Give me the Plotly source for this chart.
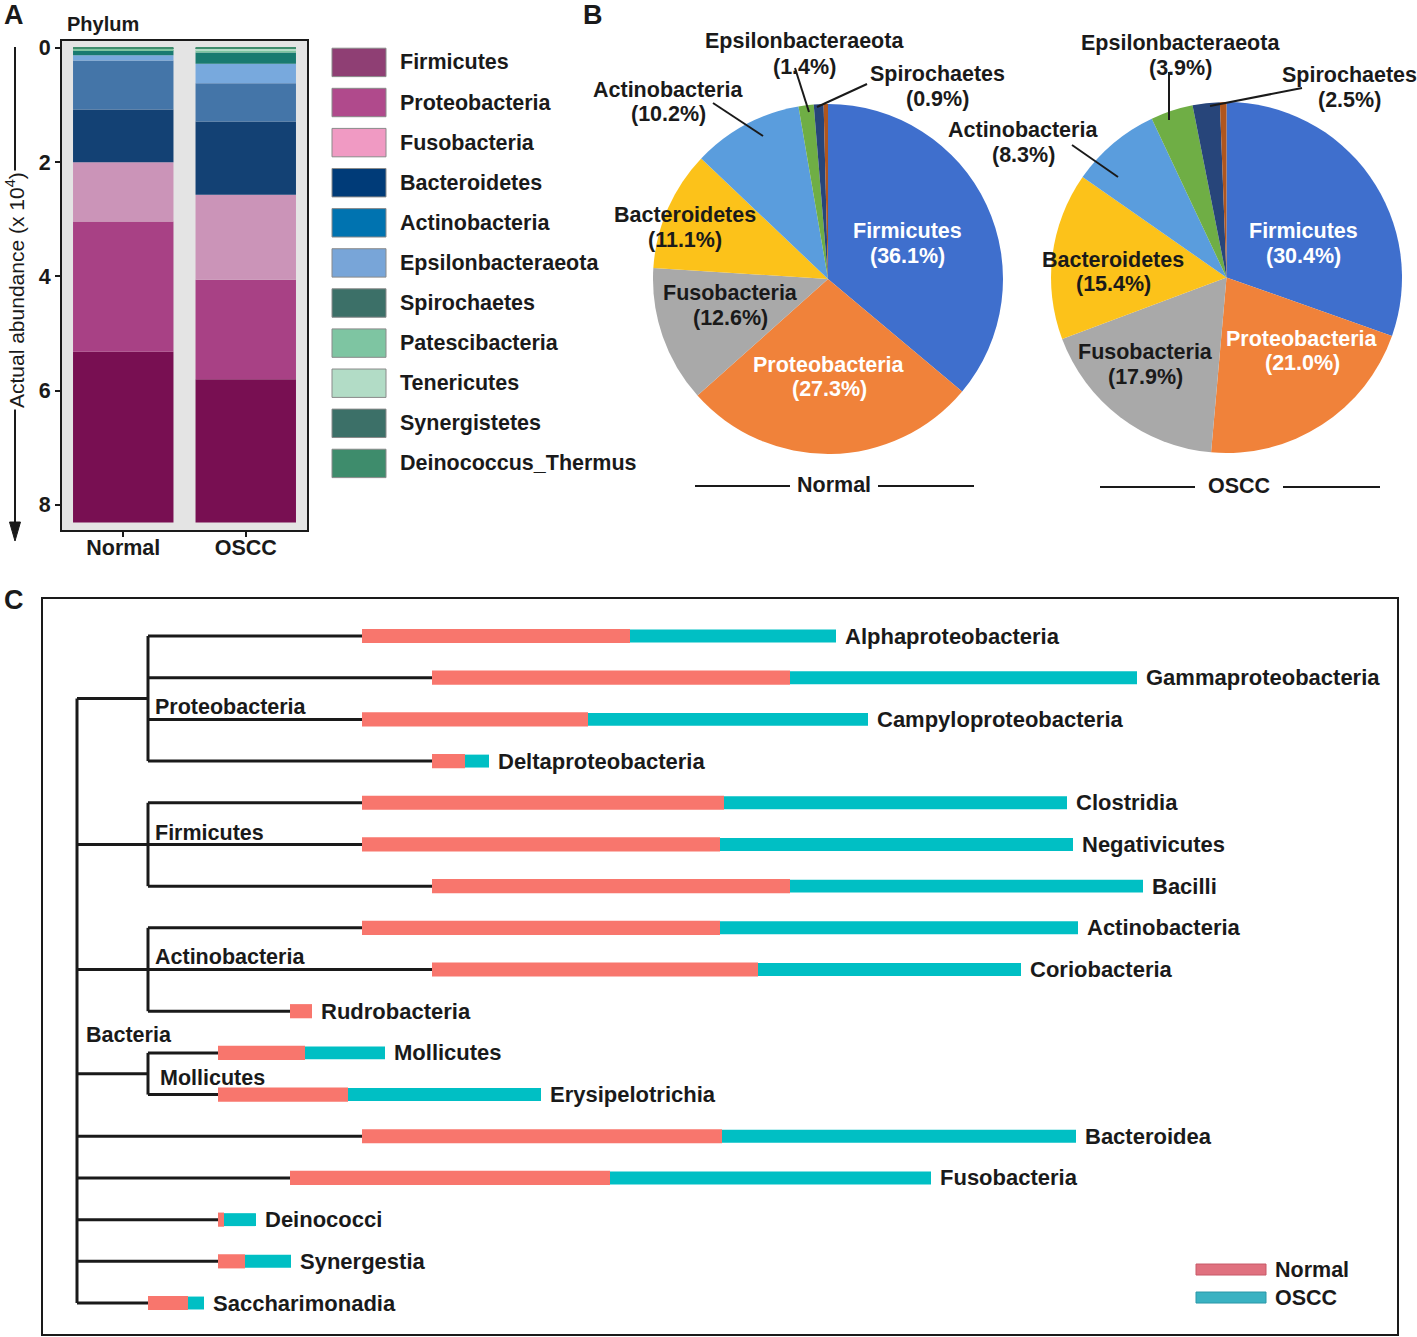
import numpy as np
import plotly.graph_objects as go

W, H = 1417, 1337
FONT = "Liberation Sans, Arial, Helvetica, sans-serif"
INK = "#1a1a1a"


def px(x):
    return x / W


def py(y):
    # small vertical compensation for the page capture offset
    return 1 - (y / 0.99626 - 5) / H


# ---------------- Panel A data (actual abundance, x10^4) ----------------
groups_a = ["Normal", "OSCC"]
phyla = ["Firmicutes", "Proteobacteria", "Fusobacteria", "Bacteroidetes", "Actinobacteria",
         "Epsilonbacteraeota", "Spirochaetes", "Patescibacteria", "Tenericutes",
         "Synergistetes", "Deinococcus_Thermus"]
abund_normal = [2.99, 2.28, 1.04, 0.92, 0.86, 0.09, 0.09, 0.02, 0.01, 0.005, 0.005]
abund_oscc = [2.51, 1.74, 1.49, 1.28, 0.67, 0.34, 0.20, 0.04, 0.02, 0.01, 0.01]
bar_colors = ["#780f52", "#a84185", "#cb94b8", "#134174", "#4475a8", "#78a9dd",
              "#197a70", "#7ec4a0", "#b4dcc8", "#2a7a70", "#3e8c6c"]
legend_colors = ["#8f3f74", "#b04a8c", "#f09ac3", "#003b78", "#0073b0", "#78a5d8",
                 "#3c7068", "#7ec5a2", "#b2dcc6", "#3c7068", "#3e8c6c"]
a_ticks = [0, 2, 4, 6, 8]

# ---------------- Panel B data (percent) ----------------
pie_labels = ["Firmicutes", "Proteobacteria", "Fusobacteria", "Bacteroidetes",
              "Actinobacteria", "Epsilonbacteraeota", "Spirochaetes", "Others"]
pie_normal = [36.1, 27.3, 12.6, 11.1, 10.2, 1.4, 0.9, 0.4]
pie_oscc = [30.4, 21.0, 17.9, 15.4, 8.3, 3.9, 2.5, 0.6]
pie_colors = ["#3f6fcd", "#f0823a", "#a9a9a9", "#fcc21a", "#5a9ddd", "#6fae45", "#27457a", "#b0561e"]

# ---------------- Panel C data ----------------
classes = ["Alphaproteobacteria", "Gammaproteobacteria", "Campyloproteobacteria", "Deltaproteobacteria",
           "Clostridia", "Negativicutes", "Bacilli", "Actinobacteria", "Coriobacteria", "Rudrobacteria",
           "Mollicutes", "Erysipelotrichia", "Bacteroidea", "Fusobacteria", "Deinococci", "Synergestia",
           "Saccharimonadia"]
class_parent = ["Proteobacteria"] * 4 + ["Firmicutes"] * 3 + ["Actinobacteria"] * 3 + \
               ["Mollicutes"] * 2 + [None] * 5
branch_end = [32.0, 39.0, 32.0, 39.0, 32.0, 32.0, 39.0, 32.0, 39.0, 24.8, 17.6, 17.6,
              32.0, 24.8, 17.6, 17.6, 10.6]
normal_len = [26.8, 35.8, 22.6, 3.3, 36.2, 35.8, 35.8, 35.8, 32.6, 2.2, 8.7, 13.0,
              36.0, 32.0, 0.6, 2.7, 4.0]
oscc_len = [20.6, 34.7, 28.0, 2.4, 34.3, 35.3, 35.3, 35.8, 26.3, 0.0, 8.0, 19.3,
            35.4, 32.1, 3.2, 4.6, 1.6]
root_depth = 3.5
phylum_depth = 10.6
parent_order = ["Proteobacteria", "Firmicutes", "Actinobacteria", "Mollicutes"]

fig = go.Figure()

# ---------------- Panel A: stacked bars (drawn from top = 0 downwards) ----------------
vals = np.array([abund_normal, abund_oscc])
base = np.cumsum(vals[:, ::-1], axis=1)[:, ::-1] - vals
for i, name in enumerate(phyla):
    fig.add_trace(go.Bar(x=groups_a, y=vals[:, i], base=base[:, i], name=name,
                         marker=dict(color=bar_colors[i], line=dict(width=0)), width=0.82,
                         xaxis="x", yaxis="y", showlegend=False))

# ---------------- Panel B: pies ----------------
fig.add_trace(go.Pie(labels=pie_labels, values=pie_normal, sort=False, direction="clockwise",
                     rotation=0, textinfo="none", showlegend=False,
                     marker=dict(colors=pie_colors, line=dict(width=0)),
                     domain=dict(x=[px(653), px(1003)], y=[py(454), py(104)])))
fig.add_trace(go.Pie(labels=pie_labels, values=pie_oscc, sort=False, direction="clockwise",
                     rotation=0, textinfo="none", showlegend=False,
                     marker=dict(colors=pie_colors, line=dict(width=0)),
                     domain=dict(x=[px(1051), px(1402)], y=[py(453), py(102)])))

# ---------------- Panel C: tree + bars ----------------
rows = np.arange(1, len(classes) + 1)
tx, ty = [], []
root_rows = []
for p in parent_order:
    idx = [i for i, c in enumerate(class_parent) if c == p]
    r0, r1 = rows[idx[0]], rows[idx[-1]]
    join = (r0 + r1) / 2
    root_rows.append(join)
    tx += [root_depth, phylum_depth, None, phylum_depth, phylum_depth, None]
    ty += [join, join, None, r0, r1, None]
    for i in idx:
        tx += [phylum_depth, branch_end[i], None]
        ty += [rows[i], rows[i], None]
for i, c in enumerate(class_parent):
    if c is None:
        root_rows.append(rows[i])
        tx += [root_depth, branch_end[i], None]
        ty += [rows[i], rows[i], None]
tx += [root_depth, root_depth]
ty += [min(root_rows), max(root_rows)]
fig.add_trace(go.Scatter(x=tx, y=ty, mode="lines", line=dict(color=INK, width=3),
                         xaxis="x2", yaxis="y2", showlegend=False, hoverinfo="skip"))

fig.add_trace(go.Bar(y=rows, x=normal_len, base=branch_end, orientation="h", width=0.34,
                     marker=dict(color="#f8766d", line=dict(width=0)), name="Normal",
                     xaxis="x2", yaxis="y2", showlegend=False))
fig.add_trace(go.Bar(y=rows, x=oscc_len, base=np.array(branch_end) + np.array(normal_len),
                     orientation="h", width=0.31,
                     marker=dict(color="#00bfc4", line=dict(width=0)), name="OSCC",
                     xaxis="x2", yaxis="y2", showlegend=False))

ann = []
shapes = []


def txt(x, y, s, size=21.5, color=INK, anchor="center", bold=True, ref="paper", **kw):
    d = dict(x=x, y=y, xref=ref if ref == "paper" else ref[0], yref=ref if ref == "paper" else ref[1],
             text=("<b>%s</b>" % s) if bold else s, showarrow=False,
             font=dict(family=FONT, size=size, color=color), xanchor=anchor, yanchor="middle")
    d.update(kw)
    ann.append(d)


def line(x0, y0, x1, y1, w=2, color=INK):
    shapes.append(dict(type="line", xref="paper", yref="paper", x0=px(x0), y0=py(y0),
                       x1=px(x1), y1=py(y1), line=dict(color=color, width=w)))


# class labels and group labels in panel C
for i, c in enumerate(classes):
    txt(branch_end[i] + normal_len[i] + oscc_len[i] + 0.7, rows[i], c, size=22,
        anchor="left", ref=("x2", "y2"))
group_label_pos = {"Proteobacteria": 2.70, "Firmicutes": 5.72, "Actinobacteria": 8.70, "Mollicutes": 11.6}
for g, yv in group_label_pos.items():
    txt(phylum_depth + (1.0 if g == "Mollicutes" else 0.5), yv, g, size=21.5, anchor="left",
        ref=("x2", "y2"))
txt(root_depth + 0.7, 10.57, "Bacteria", size=21.5, anchor="left", ref=("x2", "y2"))

# ---- Panel A decorations ----
shapes.append(dict(type="rect", xref="x domain", yref="y domain", x0=0, x1=1, y0=0, y1=1,
                   fillcolor="#e4e4e4", line=dict(width=0), layer="below"))
txt(px(14), py(15), "A", size=27)
txt(px(65), py(24), "Phylum", size=20, anchor="left")
line(15, 47, 15, 526)
shapes.append(dict(type="path", xref="paper", yref="paper",
                   path="M %f,%f L %f,%f L %f,%f Z" % (px(9.5), py(522), px(20.5), py(522), px(15), py(541)),
                   fillcolor=INK, line=dict(color=INK, width=1)))
txt(px(15), py(290), "Actual abundance (x 10<sup>4</sup>)", size=21, bold=False,
    textangle=-90, bgcolor="white")
for i, name in enumerate(phyla):
    yc = 62.4 + 40.1 * i
    shapes.append(dict(type="rect", xref="paper", yref="paper", x0=px(332), x1=px(386),
                       y0=py(yc - 14.2), y1=py(yc + 14.2), fillcolor=legend_colors[i],
                       line=dict(color="#8a8a8a", width=1)))
    txt(px(398), py(yc), name, anchor="left")

# ---- Panel B decorations ----
txt(px(593), py(15), "B", size=27)


def two(x, y1, y2, a, b, color=INK):
    txt(px(x), py(y1), a, color=color)
    txt(px(x), py(y2), b, color=color)


two(804, 41, 67, "Epsilonbacteraeota", "(1.4%)")
two(937, 74, 99, "Spirochaetes", "(0.9%)")
two(668, 90, 114, "Actinobacteria", "(10.2%)")
two(685, 215, 240, "Bacteroidetes", "(11.1%)")
two(730, 293, 318, "Fusobacteria", "(12.6%)")
two(829, 365, 389, "Proteobacteria", "(27.3%)", color="white")
two(907, 231, 256, "Firmicutes", "(36.1%)", color="white")
line(713, 103, 763, 136)
line(795, 68, 809, 112)
line(867, 84, 817, 107)

two(1180, 43, 68, "Epsilonbacteraeota", "(3.9%)")
two(1349, 75, 100, "Spirochaetes", "(2.5%)")
two(1023, 130, 155, "Actinobacteria", "(8.3%)")
two(1113, 260, 284, "Bacteroidetes", "(15.4%)")
two(1145, 352, 377, "Fusobacteria", "(17.9%)")
two(1302, 339, 363, "Proteobacteria", "(21.0%)", color="white")
two(1303, 231, 256, "Firmicutes", "(30.4%)", color="white")
line(1169, 72, 1169, 120)
line(1302, 88, 1210, 106)
line(1072, 145, 1118, 177)

txt(px(834), py(485), "Normal")
line(695, 486, 790, 486)
line(878, 486, 974, 486)
txt(px(1239), py(486), "OSCC")
line(1100, 487, 1195, 487)
line(1283, 487, 1380, 487)

# ---- Panel C decorations ----
txt(px(14), py(600), "C", size=27)
shapes.append(dict(type="rect", xref="paper", yref="paper", x0=px(42), x1=px(1398),
                   y0=py(1335), y1=py(598), line=dict(color=INK, width=2), fillcolor="rgba(0,0,0,0)"))
shapes.append(dict(type="rect", xref="paper", yref="paper", x0=px(1196), x1=px(1266),
                   y0=py(1275), y1=py(1264), fillcolor="#e0717f", line=dict(color="#c85a68", width=1)))
shapes.append(dict(type="rect", xref="paper", yref="paper", x0=px(1196), x1=px(1266),
                   y0=py(1303), y1=py(1292), fillcolor="#3ab2c2", line=dict(color="#2a98a8", width=1)))
txt(px(1273), py(1270), "Normal", size=21.5, anchor="left")
txt(px(1273), py(1298), "OSCC", size=21.5, anchor="left")

# ---------------- Layout ----------------
row_px = (1303 - 636) / 16
fig.update_layout(
    width=W, height=H, margin=dict(l=0, r=0, t=0, b=0),
    paper_bgcolor="white", plot_bgcolor="rgba(0,0,0,0)",
    barmode="overlay", showlegend=False,
    font=dict(family=FONT, color=INK),
    xaxis=dict(domain=[px(62), px(307)], anchor="y", range=[-0.5, 1.5], showline=True, mirror=True,
               linecolor=INK, linewidth=2, ticks="outside", ticklen=5, tickwidth=2, tickcolor=INK,
               ticklabelstandoff=-8,
               tickfont=dict(family=FONT, size=21.5, color=INK, weight="bold"), showgrid=False,
               fixedrange=True),
    yaxis=dict(domain=[py(530), py(41)], anchor="x", range=[8.44, -0.12], tickvals=a_ticks,
               showline=True, mirror=True, linecolor=INK, linewidth=2, ticks="outside", ticklen=5,
               tickwidth=2, tickcolor=INK, showgrid=False, zeroline=False,
               tickfont=dict(family=FONT, size=21.5, color=INK, weight="bold")),
    xaxis2=dict(domain=[px(42), px(1398)], anchor="y2", range=[0, 135.6], visible=False),
    yaxis2=dict(domain=[py(1335), py(598)], anchor="x2",
                range=[17 + (1335 - 1303) / row_px, 1 - (636 - 598) / row_px], visible=False),
    annotations=ann, shapes=shapes,
)

fig.write_html("out.html", config={"displayModeBar": False},
               post_script="document.documentElement.style.margin='0';"
                           "document.body.style.margin='0';document.body.style.padding='0';"
                           "document.documentElement.style.overflow='hidden';")
